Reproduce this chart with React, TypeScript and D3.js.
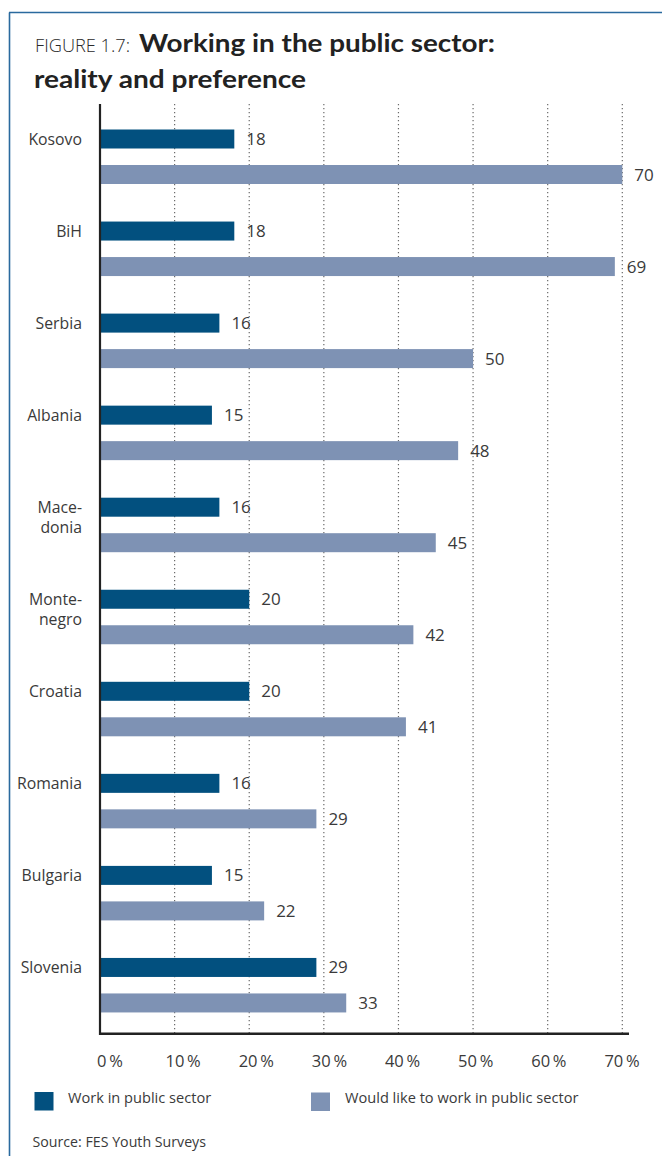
import React from "react";
import * as d3 from "d3";

const categories = ["Kosovo", "BiH", "Serbia", "Albania", "Macedonia", "Montenegro", "Croatia", "Romania", "Bulgaria", "Slovenia"];
const categoryLines: string[][] = [["Kosovo"], ["BiH"], ["Serbia"], ["Albania"], ["Mace-", "donia"], ["Monte-", "negro"], ["Croatia"], ["Romania"], ["Bulgaria"], ["Slovenia"]];
const workInPublic = [18, 18, 16, 15, 16, 20, 20, 16, 15, 29];
const wouldLike = [70, 69, 50, 48, 45, 42, 41, 29, 22, 33];
const tickValues = [0, 10, 20, 30, 40, 50, 60, 70];
const seriesNames = ["Work in public sector", "Would like to work in public sector"];

const W = 662;
const H = 1156;
const DARK = "#02507f";
const LIGHT = "#7e92b4";
const FRAME = "#2a6a9e";
const TEXT = "#3a3a3a";
const FONT = "'Open Sans', 'Noto Sans', sans-serif";

export default function App() {
  const x = d3.scaleLinear().domain([0, 70]).range([100, 622.3]);
  const xLabel = d3.scaleLinear().domain([0, 70]).range([110, 622]);
  const y = d3.scaleBand<string>().domain(categories).range([129.5, 129.5 + 92.05 * 10]).paddingInner(0);
  const barH = 19;
  const lightOff = 35.5;
  const axisTop = 104;
  const axisBottom = 1034;

  return (
    <svg width={W} height={H} style={{ position: "absolute", left: 0, top: 0, background: "#fff" }} fontFamily={FONT}>
      <rect x={0} y={0} width={W} height={H} fill="#fff" />
      {/* frame */}
      <line x1={9.5} x2={9.5} y1={12.5} y2={H} stroke={FRAME} strokeWidth={1.6} />
      <line x1={9} x2={W} y1={12.5} y2={12.5} stroke={FRAME} strokeWidth={1.6} />

      {/* title */}
      <text x={35} y={51.7} fontSize={19} fill="#2a2a2a" fontWeight={300} textLength={95} lengthAdjust="spacingAndGlyphs">FIGURE 1.7:</text>
      <text x={139} y={51.7} fontSize={24.5} fill="#222" fontWeight={700} fontFamily="Lato, 'Open Sans', sans-serif" textLength={356} lengthAdjust="spacingAndGlyphs">Working in the public sector:</text>
      <text x={34} y={87.5} fontSize={24.5} fill="#222" fontWeight={700} fontFamily="Lato, 'Open Sans', sans-serif" textLength={272} lengthAdjust="spacingAndGlyphs">reality and preference</text>

      {/* gridlines */}
      {tickValues.filter((t) => t > 0).map((t) => (
        <line key={"g" + t} x1={x(t)} x2={x(t)} y1={axisTop} y2={axisBottom} stroke="#6a6a6a" strokeWidth={1.2} strokeDasharray="1.2 2.8" />
      ))}

      {/* bars */}
      {categories.map((c, i) => {
        const y0 = y(c)!;
        return (
          <g key={c}>
            <rect x={x(0)} y={y0} width={x(workInPublic[i]) - x(0)} height={barH} fill={DARK} />
            <rect x={x(0)} y={y0 + lightOff} width={x(wouldLike[i]) - x(0)} height={barH} fill={LIGHT} />
            <text x={x(workInPublic[i]) + 12} y={y0 + barH / 2 + 6} fontSize={17} fill={TEXT}>{workInPublic[i]}</text>
            <text x={x(wouldLike[i]) + 12} y={y0 + lightOff + barH / 2 + 6} fontSize={17} fill={TEXT}>{wouldLike[i]}</text>
            {categoryLines[i].map((ln, k) => (
              <text key={k} x={82} y={y0 + barH / 2 + 6 + k * 20} fontSize={15.8} fill={TEXT} textAnchor="end">{ln}</text>
            ))}
          </g>
        );
      })}

      {/* axes */}
      <line x1={100} x2={100} y1={axisTop} y2={axisBottom + 1} stroke="#222" strokeWidth={2.2} />
      <line x1={99} x2={629} y1={1033.8} y2={1033.8} stroke="#222" strokeWidth={2.4} />

      {/* tick labels */}
      {tickValues.map((t) => (
        <text key={"t" + t} x={xLabel(t)} y={1067} fontSize={16.5} fill={TEXT} textAnchor="middle">{t + "\u2009%"}</text>
      ))}

      {/* legend */}
      <rect x={34.5} y={1092} width={19} height={18.5} fill={DARK} />
      <text x={68} y={1103.3} fontSize={14.6} fill={TEXT}>{seriesNames[0]}</text>
      <rect x={311} y={1092.5} width={19} height={18.5} fill={LIGHT} />
      <text x={345} y={1103.3} fontSize={14.6} fill={TEXT}>{seriesNames[1]}</text>

      {/* source */}
      <text x={32.5} y={1146.7} fontSize={14.2} fill={TEXT}>Source: FES Youth Surveys</text>
    </svg>
  );
}
